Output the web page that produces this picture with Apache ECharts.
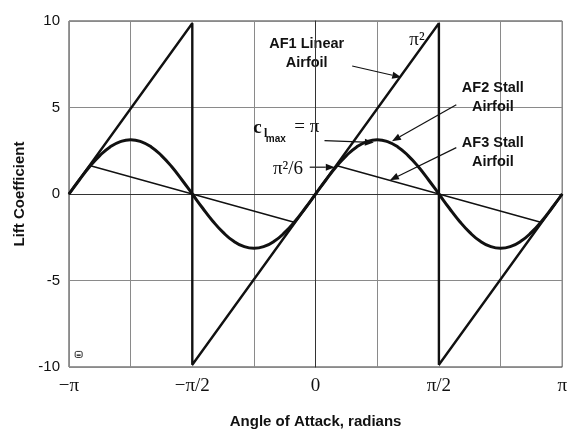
<!DOCTYPE html>
<html>
<head>
<meta charset="utf-8">
<script src="https://cdn.jsdelivr.net/npm/echarts@6/dist/echarts.min.js"></script>
<style>
  html, body { margin: 0; padding: 0; background: #fff; }
  #main { width: 570px; height: 434px; }
</style>
</head>
<body>
<div id="main"></div>
<script>
// Angle of attack in degrees (axis labels show radians)
const tickLabels = { '-180': '\u2212\u03c0', '-90': '\u2212\u03c0/2', '0': '0', '90': '\u03c0/2', '180': '\u03c0' };

// AF1 linear airfoil: vertices of the saw-tooth
const af1Alpha = [-180, -90, -90, 90, 90, 180];
const af1Lift  = [0, 9.87, -9.87, 9.87, -9.87, 0];

// AF2 stall airfoil, sampled every 7.5 degrees
const af2Alpha = [-180, -172.5, -165, -157.5, -150, -142.5, -135, -127.5, -120, -112.5, -105, -97.5,
                  -90, -82.5, -75, -67.5, -60, -52.5, -45, -37.5, -30, -22.5, -15, -7.5,
                  0, 7.5, 15, 22.5, 30, 37.5, 45, 52.5, 60, 67.5, 75, 82.5,
                  90, 97.5, 105, 112.5, 120, 127.5, 135, 142.5, 150, 157.5, 165, 172.5, 180];
const af2Lift  = [0, 0.81, 1.57, 2.22, 2.72, 3.03, 3.14, 3.03, 2.72, 2.22, 1.57, 0.81,
                  0, -0.81, -1.57, -2.22, -2.72, -3.03, -3.14, -3.03, -2.72, -2.22, -1.57, -0.81,
                  0, 0.81, 1.57, 2.22, 2.72, 3.03, 3.14, 3.03, 2.72, 2.22, 1.57, 0.81,
                  0, -0.81, -1.57, -2.22, -2.72, -3.03, -3.14, -3.03, -2.72, -2.22, -1.57, -0.81, 0];

// AF3 stall airfoil: vertices
const af3Alpha = [-180, -165, -15, 0, 15, 165, 180];
const af3Lift  = [0, 1.645, -1.645, 0, 1.645, -1.645, 0];

const zip = (a, b) => a.map((v, i) => [v, b[i]]);
const INK = '#111';
const SANS = '"Liberation Sans", Arial, sans-serif';
const SERIF = '"Liberation Serif", "Times New Roman", serif';

const option = {
  backgroundColor: '#fff',
  animation: false,
  grid: { left: 69, right: 3, top: 21, bottom: 66, show: true, borderColor: '#333', borderWidth: 1 },
  xAxis: {
    type: 'value', min: -180, max: 180, interval: 45,
    axisLine: { show: true, lineStyle: { color: '#333' } },
    axisTick: { show: false },
    axisLabel: {
      margin: 10, color: INK, fontFamily: SERIF, fontSize: 19,
      formatter: v => tickLabels[String(v)] || ''
    },
    splitLine: { show: true, lineStyle: { color: '#8a8a8a', width: 1 } },
    name: 'Angle of Attack, radians', nameLocation: 'middle', nameGap: 47,
    nameTextStyle: { color: INK, fontFamily: SANS, fontWeight: 'bold', fontSize: 15 }
  },
  yAxis: {
    type: 'value', min: -10, max: 10, interval: 5,
    axisLine: { show: true, lineStyle: { color: '#333' } },
    axisTick: { show: false },
    axisLabel: { margin: 9, color: INK, fontFamily: SANS, fontSize: 15 },
    splitLine: { show: true, lineStyle: { color: '#8a8a8a', width: 1 } },
    name: 'Lift Coefficient', nameLocation: 'middle', nameGap: 40, nameRotate: 90,
    nameTextStyle: { color: INK, fontFamily: SANS, fontWeight: 'bold', fontSize: 15 }
  },
  series: [
    { name: 'AF1 Linear Airfoil', type: 'line', data: zip(af1Alpha, af1Lift), showSymbol: false,
      lineStyle: { color: INK, width: 2.4 }, z: 3 },
    { name: 'AF2 Stall Airfoil', type: 'line', data: zip(af2Alpha, af2Lift), showSymbol: false, smooth: true,
      lineStyle: { color: INK, width: 3 }, z: 4 },
    { name: 'AF3 Stall Airfoil', type: 'line', data: zip(af3Alpha, af3Lift), showSymbol: false,
      lineStyle: { color: INK, width: 1.4 }, z: 2 }
  ]
};

const chart = echarts.init(document.getElementById('main'), null, { renderer: 'canvas' });
chart.setOption(option);

const px = p => chart.convertToPixel({ gridIndex: 0 }, p);

function arrow(from, to) {
  const a = px(from), b = px(to);
  const ang = Math.atan2(b[1] - a[1], b[0] - a[0]);
  const L = 9, W = 3.5;
  const base = [b[0] - L * Math.cos(ang), b[1] - L * Math.sin(ang)];
  const p1 = [base[0] + W * Math.sin(ang), base[1] - W * Math.cos(ang)];
  const p2 = [base[0] - W * Math.sin(ang), base[1] + W * Math.cos(ang)];
  return [
    { type: 'line', shape: { x1: a[0], y1: a[1], x2: base[0], y2: base[1] }, style: { stroke: INK, lineWidth: 1.2 } },
    { type: 'polygon', shape: { points: [b, p1, p2] }, style: { fill: INK } }
  ];
}

function label(at, text, font, align) {
  const p = px(at);
  return { type: 'text', x: p[0], y: p[1],
    style: { text, font, fill: INK, align: align || 'center', verticalAlign: 'middle', lineHeight: 19 } };
}

const boldSans = 'bold 14.5px ' + SANS;
const serif19 = '19px ' + SERIF;

// small key glyph in the lower-left corner of the plot
const key = px([-175.5, -9.1]);

const elements = [].concat(
  [label([-6.5, 8.15], 'AF1 Linear\nAirfoil', boldSans)],
  arrow([26.7, 7.4], [62.5, 6.75]),
  [label([74, 8.9], '\u03c0\u00b2', serif19)],
  [label([129.4, 5.6], 'AF2 Stall\nAirfoil', boldSans)],
  arrow([102.7, 5.16], [55.7, 3.05]),
  [label([129.4, 2.42], 'AF3 Stall\nAirfoil', boldSans)],
  arrow([102.7, 2.68], [54.2, 0.8]),
  [label([-45.5, 3.83], 'c', 'bold 19px ' + SERIF, 'left'),
   label([-37.6, 3.5], 'l', 'bold 12px ' + SERIF, 'left'),
   label([-36.4, 3.15], 'max', 'bold 10px ' + SANS, 'left'),
   label([-15.5, 3.85], '= \u03c0', serif19, 'left')],
  arrow([6.5, 3.08], [42.5, 2.98]),
  [label([-20.2, 1.42], '\u03c0\u00b2/6', serif19)],
  arrow([-4.3, 1.55], [14.0, 1.55]),
  [{ type: 'rect', x: key[0], y: key[1], shape: { width: 7, height: 6, r: 1.5 },
     style: { fill: '#fff', stroke: '#333', lineWidth: 1 } },
   { type: 'rect', x: key[0] + 1.5, y: key[1] + 3, shape: { width: 4, height: 1.5 },
     style: { fill: '#333' } }]
);

chart.setOption({ graphic: { elements } });
</script>
</body>
</html>
